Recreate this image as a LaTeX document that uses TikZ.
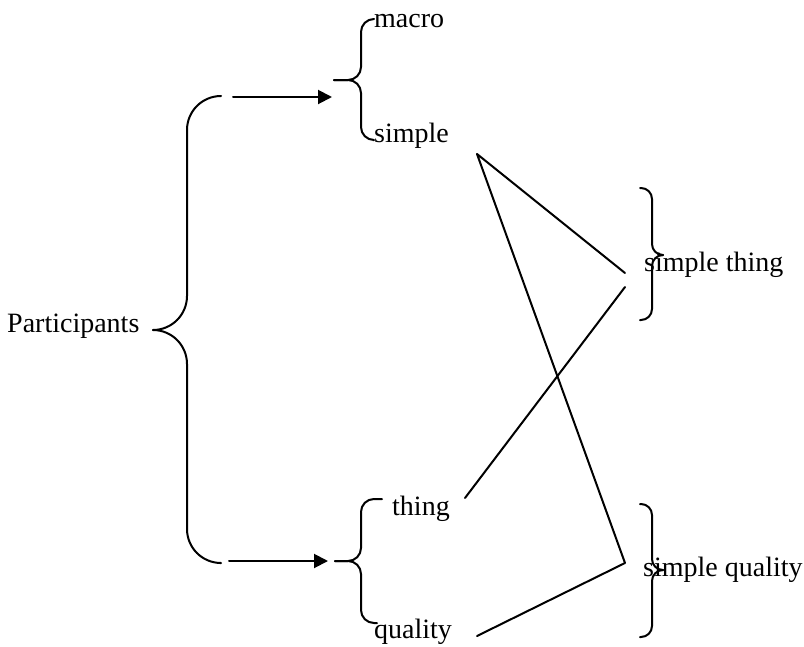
\documentclass[tikz,border=0pt]{standalone}
\usepackage{fontspec}
\setmainfont{Liberation Serif}
\usetikzlibrary{arrows.meta}
\begin{document}
\begin{tikzpicture}[x=1pt,y=-1pt,
  lbl/.style={anchor=base west,inner sep=0pt,font=\fontsize{28}{33}\selectfont},
  ln/.style={line width=2pt,line cap=round,line join=round},
  arr/.style={ln,-{Triangle[length=14pt,width=14pt]}}]
\useasboundingbox (0,0) rectangle (804,646);
% labels
\node[lbl] (part) at (7,332) {Participants};
\node[lbl] (macro) at (374,27) {macro};
\node[lbl] (simple) at (374,142) {simple};
\node[lbl] (thing) at (392,515) {thing};
\node[lbl] (quality) at (374,638) {quality};
\node[lbl] (sthing) at (644,271) {simple thing};
\node[lbl] (squal) at (643,576) {simple quality};
% big brace
\draw[ln,rounded corners=34pt] (153,330) -| (187,96) -- (220,96);
\draw[ln,rounded corners=34pt] (153,330) -| (187,563) -- (220,563);
% brace macro/simple
\draw[ln,rounded corners=13pt] (334,80) -| (361,19) -- (373,19);
\draw[ln,rounded corners=13pt] (334,80) -| (361,140) -- (373,140);
% brace thing/quality
\draw[ln,rounded corners=13pt] (335,561) -| (361,499) -- (382,499);
\draw[ln,rounded corners=13pt] (335,561) -| (361,623) -- (377,623);
% brace simple thing
\draw[ln,rounded corners=11pt] (662,255) -| (652,188) -- (640,188);
\draw[ln,rounded corners=11pt] (662,255) -| (652,320) -- (640,320);
% brace simple quality
\draw[ln,rounded corners=11pt] (662,570) -| (652,504) -- (640,504);
\draw[ln,rounded corners=11pt] (662,570) -| (652,637) -- (640,637);
% arrows
\coordinate (a1s) at (233,97);
\coordinate (a1e) at (332,97);
\coordinate (a2s) at (229,561);
\coordinate (a2e) at (328,561);
\draw[arr] (a1s) -- (a1e);
\draw[arr] (a2s) -- (a2e);
% connecting lines
\coordinate (pS) at (477,154);
\coordinate (pT) at (465,498);
\coordinate (pQ) at (477,636);
\coordinate (pST1) at (625,273);
\coordinate (pST2) at (625,287);
\coordinate (pSQ) at (625,563);
\draw[ln] (pST1) -- (pS) -- (pSQ) -- (pQ);
\draw[ln] (pT) -- (pST2);
\end{tikzpicture}
\end{document}
